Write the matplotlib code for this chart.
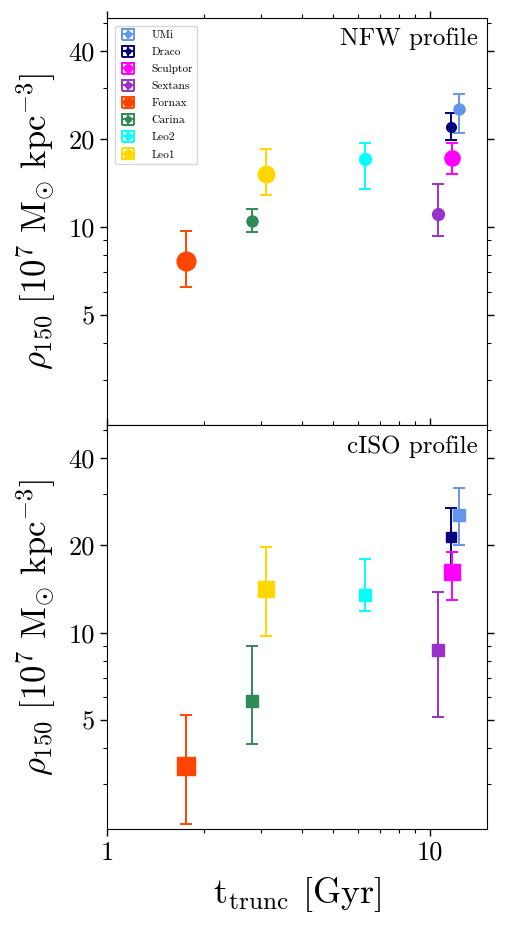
import numpy as np
import matplotlib
matplotlib.use("Agg")
import matplotlib.pyplot as plt
from matplotlib.ticker import FixedLocator, FixedFormatter, LogLocator, NullFormatter

plt.rcParams['font.family'] = 'serif'
plt.rcParams['font.serif'] = ['cmr10', 'DejaVu Serif']
plt.rcParams['mathtext.fontset'] = 'cm'
plt.rcParams['axes.unicode_minus'] = False

# galaxies, in legend order
names = ['UMi', 'Draco', 'Sculptor', 'Sextans', 'Fornax', 'Carina', 'Leo2', 'Leo1']
colors = ['cornflowerblue', 'navy', 'magenta', 'darkorchid', 'orangered', 'seagreen', 'cyan', 'gold']
msizes = [8, 7, 11, 8.5, 13.5, 8, 8.5, 12]

# truncation time [Gyr]
t_trunc = [12.3, 11.6, 11.7, 10.55, 1.76, 2.81, 6.27, 3.11]

# NFW: rho150 and asymmetric errors
rho_nfw = [25.4, 21.9, 17.2, 11.1, 7.65, 10.45, 17.1, 15.2]
nfw_up = [28.4, 24.5, 19.4, 14.0, 9.68, 11.55, 19.4, 18.5]
nfw_lo = [21.0, 19.8, 15.2, 9.3, 6.23, 9.58, 13.5, 12.85]

# cISO
rho_iso = [25.4, 21.4, 16.2, 8.7, 3.46, 5.8, 13.5, 14.2]
iso_up = [31.5, 26.8, 19.0, 13.8, 5.19, 8.97, 17.9, 19.7]
iso_lo = [20.0, 16.7, 13.0, 5.13, 2.19, 4.13, 11.9, 9.76]

fig = plt.figure(figsize=(5.09, 9.34), dpi=100)
ax1 = fig.add_axes([0.21, 0.545, 0.747, 0.436])
ax2 = fig.add_axes([0.21, 0.112, 0.747, 0.433], sharex=ax1)

panels = [(ax1, rho_nfw, nfw_up, nfw_lo, 'o', 'NFW profile'),
          (ax2, rho_iso, iso_up, iso_lo, 's', 'cISO profile')]

for ax, rho, up, lo, mk, title in panels:
    for i in range(len(names)):
        yerr = [[rho[i] - lo[i]], [up[i] - rho[i]]]
        ax.errorbar([t_trunc[i]], [rho[i]], yerr=yerr, xerr=[[0], [0]],
                    fmt=mk, color=colors[i], ms=msizes[i], elinewidth=1.4,
                    capsize=4.5, capthick=1.4, label=names[i])
    ax.set_xscale('log')
    ax.set_yscale('log')
    ax.set_xlim(1, 15)
    ax.set_ylim(2.1, 52)
    ax.yaxis.set_major_locator(FixedLocator([5, 10, 20, 40]))
    ax.yaxis.set_major_formatter(FixedFormatter(['5', '10', '20', '40']))
    ax.yaxis.set_minor_locator(LogLocator(base=10, subs=np.arange(2, 10)))
    ax.yaxis.set_minor_formatter(NullFormatter())
    ax.tick_params(which='both', direction='out', top=True, right=True, labelsize=19)
    ax.tick_params(which='major', length=5, width=1)
    ax.tick_params(which='minor', length=3, width=0.8)
    ax.set_ylabel(r'$\rho_{150}\ [10^7\ \mathrm{M}_{\odot}\ \mathrm{kpc}^{-3}]$', fontsize=25,
                  labelpad=8)
    ax.text(0.975, 0.975, title, transform=ax.transAxes, ha='right', va='top', fontsize=18)

ax1.tick_params(axis='x', labelbottom=False)
ax2.xaxis.set_major_locator(FixedLocator([1, 10]))
ax2.xaxis.set_major_formatter(FixedFormatter(['1', '10']))
ax2.xaxis.set_minor_locator(LogLocator(base=10, subs=np.arange(2, 10)))
ax2.xaxis.set_minor_formatter(NullFormatter())
ax2.set_xlabel(r'$\mathrm{t_{trunc}}$ [Gyr]', fontsize=26, labelpad=7)

ax1.legend(loc='upper left', fontsize=8.2, markerscale=0.5, labelspacing=0.62,
           handlelength=1.5, handletextpad=1.3, borderaxespad=0.7)

fig.savefig('out.png', dpi=100)
